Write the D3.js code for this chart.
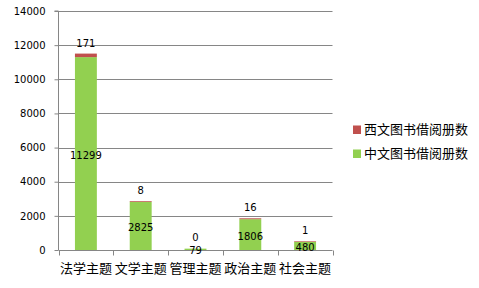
<!DOCTYPE html>
<html>
<head>
<meta charset="utf-8">
<script src="https://cdn.jsdelivr.net/npm/d3@7"></script>
<style>
  html, body { margin: 0; padding: 0; background: #fff; }
  svg { display: block; }
</style>
</head>
<body>
<svg id="chart" width="479" height="288"></svg>
<script>
// Borrowing counts by subject
const categories = ["法学主题", "文学主题", "管理主题", "政治主题", "社会主题"];
const chineseBooks = [11299, 2825, 79, 1806, 480];   // 中文图书借阅册数
const westernBooks = [171, 8, 0, 16, 1];             // 西文图书借阅册数
const yTicks = [0, 2000, 4000, 6000, 8000, 10000, 12000, 14000];
const seriesNames = ["西文图书借阅册数", "中文图书借阅册数"];
const seriesColors = ["#C0504D", "#92D050"];

const svg = d3.select("#chart");
const plot = { left: 58.5, right: 332.5, top: 11, bottom: 250 };

const x = d3.scaleBand().domain(categories).range([plot.left, plot.right]).paddingInner(0.6).paddingOuter(0.3);
const xOuter = d3.scaleBand().domain(categories).range([plot.left, plot.right]);
const y = d3.scaleLinear().domain([0, 14000]).range([plot.bottom, plot.top]);

const numFont = "'DejaVu Sans', Verdana, sans-serif";
const cjkFont = "'Noto Sans CJK SC', 'Noto Sans', sans-serif";

// Horizontal gridlines
svg.append("g")
  .selectAll("line")
  .data(yTicks.filter(d => d > 0))
  .join("line")
  .attr("x1", plot.left).attr("x2", plot.right)
  .attr("y1", d => Math.round(y(d)) + 0.5).attr("y2", d => Math.round(y(d)) + 0.5)
  .attr("stroke", "#868686").attr("stroke-width", 1);

// Y axis
const yAxis = d3.axisLeft(y).tickValues(yTicks).tickSize(4).tickPadding(9).tickFormat(d3.format("d"));
const gy = svg.append("g").attr("transform", `translate(${plot.left},0)`).call(yAxis);
gy.select(".domain").attr("d", `M-4,${plot.top}H0V${plot.bottom}`).attr("stroke", "#868686");
gy.selectAll(".tick line").attr("stroke", "#868686");
gy.selectAll(".tick text").attr("font-family", numFont).attr("font-size", 10).attr("fill", "#000");

// X axis
const gx = svg.append("g").attr("transform", `translate(0,${Math.round(plot.bottom) + 0.5})`);
gx.append("line").attr("x1", plot.left).attr("x2", plot.right).attr("stroke", "#868686");
gx.selectAll("line.tick")
  .data(categories.concat(["_end"]))
  .join("line")
  .attr("class", "tick")
  .attr("x1", (d, i) => Math.round(i < categories.length ? xOuter(d) : plot.right) + 0.5)
  .attr("x2", (d, i) => Math.round(i < categories.length ? xOuter(d) : plot.right) + 0.5)
  .attr("y1", 0).attr("y2", 5)
  .attr("stroke", "#868686");
gx.selectAll("text")
  .data(categories)
  .join("text")
  .attr("x", d => xOuter(d) + xOuter.bandwidth() / 2)
  .attr("y", 22)
  .attr("text-anchor", "middle")
  .attr("font-family", cjkFont).attr("font-size", 13).attr("fill", "#000")
  .text(d => d);

// Stacked bars
const rows = categories.map((c, i) => ({ c, cn: chineseBooks[i], west: westernBooks[i] }));
const bars = svg.append("g");
bars.selectAll("rect.cn")
  .data(rows)
  .join("rect")
  .attr("class", "cn")
  .attr("x", d => x(d.c)).attr("width", x.bandwidth())
  .attr("y", d => y(d.cn)).attr("height", d => y(0) - y(d.cn))
  .attr("fill", seriesColors[1]);
bars.selectAll("rect.west")
  .data(rows)
  .join("rect")
  .attr("class", "west")
  .attr("x", d => x(d.c)).attr("width", x.bandwidth())
  .attr("y", d => y(d.cn + d.west) - (d.west > 0 ? 0.6 : 0))
  .attr("height", d => d.west > 0 ? y(d.cn) - y(d.cn + d.west) + 0.6 : 0)
  .attr("fill", seriesColors[0]);

// Value labels
const labels = svg.append("g").attr("font-family", numFont).attr("font-size", 10).attr("fill", "#000").attr("text-anchor", "middle");
labels.selectAll("text.cn")
  .data(rows)
  .join("text")
  .attr("class", "cn")
  .attr("x", d => x(d.c) + x.bandwidth() / 2)
  .attr("y", d => (y(d.cn) + y(0)) / 2 + 1.5)
  .attr("dy", "0.35em")
  .text(d => d.cn);
labels.selectAll("text.west")
  .data(rows)
  .join("text")
  .attr("class", "west")
  .attr("x", d => x(d.c) + x.bandwidth() / 2)
  .attr("y", d => y(d.cn + d.west) - 11)
  .attr("dy", "0.35em")
  .text(d => d.west);

// Legend
const legend = svg.append("g").attr("transform", "translate(353,125)");
seriesNames.forEach((name, i) => {
  const g = legend.append("g").attr("transform", `translate(0,${i * 24})`);
  g.append("rect").attr("x", 0).attr("y", 0.5).attr("width", 8).attr("height", 8.5).attr("fill", seriesColors[i]);
  g.append("text").attr("x", 11).attr("y", 4).attr("dy", "0.35em")
    .attr("font-family", cjkFont).attr("font-size", 13).attr("fill", "#000").text(name);
});
</script>
</body>
</html>
